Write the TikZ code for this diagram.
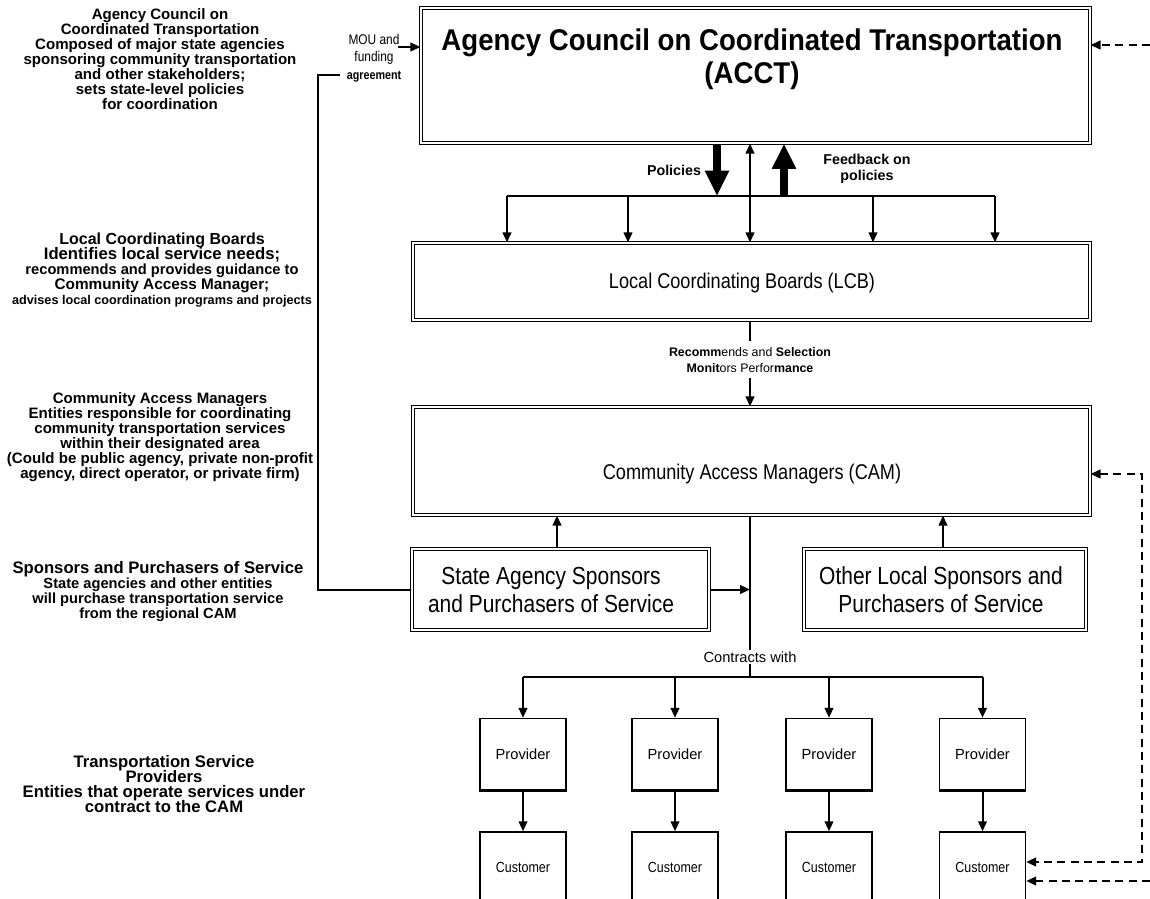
\documentclass[tikz,border=0pt]{standalone}
\usepackage{fontspec}
\setmainfont{Liberation Sans}
\newfontfamily\nar[FakeStretch=0.85]{Liberation Sans}
\newfontfamily\narT[FakeStretch=0.92]{Liberation Sans}
\usetikzlibrary{arrows.meta}
\AtBeginDocument{\lineskiplimit=-100pt\relax}
\begin{document}
\begin{tikzpicture}[x=0.75pt,y=-0.75pt,
  sz/.style 2 args={minimum width=#1*0.75pt, minimum height=#2*0.75pt},
  frame/.style={draw, line width=0.9pt, double=white, double distance=1.1pt, inner sep=0pt},
  sbox/.style={draw, line width=1.1pt, inner sep=0pt},
  ln/.style={line width=1.5pt},
  arr/.style={line width=1.5pt, -{Triangle[length=7.5pt,width=6.5pt]}},
  barr/.style={line width=1.5pt, {Triangle[length=7.5pt,width=6.5pt]}-{Triangle[length=7.5pt,width=6.5pt]}},
  fat/.style={line width=6pt, -{Triangle[length=19pt,width=17pt]}},
  dsh/.style={line width=1.6pt, dash pattern=on 6pt off 4pt, -{Triangle[length=7.5pt,width=6.5pt]}},
  dshb/.style={line width=1.6pt, dash pattern=on 6pt off 4pt, {Triangle[length=7.5pt,width=6.5pt]}-{Triangle[length=7.5pt,width=6.5pt]}},
  lt/.style={align=center, inner sep=0pt},
  lbl/.style={align=center, inner sep=1pt}
]
\fill[white] (0,0) rectangle (1150,899);
\useasboundingbox (0,0) rectangle (1150,899);

% ---------- left descriptions ----------
\node[lt, font=\bfseries\fontsize{11.3}{11.25}\selectfont] (t1) at (160,59.5)
  {Agency Council on\\Coordinated Transportation\\Composed of major state agencies\\sponsoring community transportation\\and other stakeholders;\\sets state-level policies\\for coordination};
\node[lt, font=\bfseries\fontsize{12}{11.25}\selectfont] (t2) at (162,270)
  {Local Coordinating Boards\\{\fontsize{12.5}{11.25}\selectfont Identifies local service needs;}\\{\fontsize{11}{11.25}\selectfont recommends and provides guidance to}\\{\fontsize{11.5}{11.25}\selectfont Community Access Manager;}\\{\fontsize{9.5}{11.25}\selectfont advises local coordination programs and projects}};
\node[lt, font=\bfseries\fontsize{11.3}{11.25}\selectfont] (t3) at (160,437.5)
  {Community Access Managers\\Entities responsible for coordinating\\community transportation services\\within their designated area\\(Could be public agency, private non-profit\\agency, direct operator, or private firm)};
\node[lt, font=\bfseries\fontsize{11}{11.25}\selectfont] (t4) at (158,591.5)
  {{\fontsize{12.5}{11.25}\selectfont Sponsors and Purchasers of Service}\\State agencies and other entities\\will purchase transportation service\\from the regional CAM};
\node[lt, font=\bfseries\fontsize{12.5}{11.25}\selectfont] (t5) at (164,784.5)
  {Transportation Service\\Providers\\Entities that operate services under\\contract to the CAM};

% ---------- boxes ----------
\node[frame, sz={669}{135}] (acct) at (755.5,75.5) {};
\node[lt, font=\narT\bfseries\fontsize{22.5}{24.75}\selectfont] (acctT) at (752,59)
  {Agency Council on Coordinated Transportation\\(ACCT)};
\node[frame, sz={677}{77}] (lcb) at (751.5,281.5) {};
\node[lt, font=\nar\fontsize{16}{19}\selectfont] (lcbT) at (742,283) {Local Coordinating Boards (LCB)};
\node[frame, sz={677}{108}] (cam) at (751.5,461) {};
\node[lt, font=\nar\fontsize{16}{19}\selectfont] (camT) at (752,474) {Community Access Managers (CAM)};
\node[frame, sz={297}{81}] (sas) at (560.5,589.5) {};
\node[lt, font=\nar\fontsize{18.5}{21}\selectfont] (sasT) at (551,590) {State Agency Sponsors\\and Purchasers of Service};
\node[frame, sz={282}{81}] (olsp) at (945,589.5) {};
\node[lt, font=\nar\fontsize{18.5}{21}\selectfont] (olspT) at (941,590) {Other Local Sponsors and\\Purchasers of Service};

\foreach \x [count=\i] in {523,675,829,982.5} {
  \node[sbox, sz={86}{71}, font=\fontsize{11}{13}\selectfont] (p\i) at (\x,754) {Provider};
  \node[sbox, sz={86}{70}, font=\nar\fontsize{11}{13}\selectfont] (c\i) at (\x,867) {Customer};
  \draw[line width=2pt] (p\i.south west) -- (p\i.south east);
}

% ---------- MOU ----------
\coordinate (mouC) at (318,75);
\coordinate (mouE) at (340,75);
\draw[ln] (sas.west) -| (mouC) -- (mouE);
\node[lbl, font=\nar\fontsize{10.5}{13}\selectfont] (mou) at (374,58) {MOU and\\funding\\{\bfseries\fontsize{9.5}{13}\selectfont agreement}};
\coordinate (mouA) at (398,47);
\draw[arr] (mouA) -- (acct.west |- mouA);

% ---------- top dashed ----------
\coordinate (dTop) at (1150,45);
\draw[dsh] (dTop) -- (acct.east |- dTop);

% ---------- ACCT <-> LCB ----------
\foreach \x [count=\i] in {507,628,750,873,995} \coordinate (b\i) at (\x,196);
\draw[ln] (b1) -- (b5);
\foreach \i in {1,2,4,5} \draw[arr] (b\i) -- (lcb.north -| b\i);
\draw[barr] (acct.south -| b3) -- (lcb.north -| b3);
\coordinate (polB) at (717,196);
\draw[fat] (acct.south -| polB) -- (polB);
\coordinate (fbB) at (784,196);
\draw[fat] (fbB) -- (acct.south -| fbB);
\node[lbl, font=\bfseries\fontsize{10.7}{12}\selectfont] (pol) at (674,170) {Policies};
\node[lbl, font=\bfseries\fontsize{10.7}{12}\selectfont] (fb) at (867,169) {Feedback on\\policies};

% ---------- LCB -> CAM ----------
\coordinate (r1) at (750,341);
\coordinate (r2) at (750,378);
\draw[ln] (lcb.south -| r1) -- (r1);
\node[lbl, font=\fontsize{9.3}{12}\selectfont] (rec) at (750,360) {{\bfseries Recomm}ends and {\bfseries Selection}\\{\bfseries Monit}ors Perfor{\bfseries mance}};
\draw[arr] (r2) -- (cam.north -| r2);

% ---------- sponsors -> CAM ----------
\coordinate (uL) at (557,530);
\coordinate (uR) at (943,530);
\draw[arr] (sas.north -| uL) -- (cam.south -| uL);
\draw[arr] (olsp.north -| uR) -- (cam.south -| uR);

% ---------- CAM -> providers ----------
\coordinate (cb) at (750,677);
\draw[ln] (cam.south -| cb) -- (cb);
\draw[arr] (sas.east) -- (sas.east -| cb);
\node[lbl, fill=white, font=\fontsize{11}{13}\selectfont] (cw) at (750,657) {Contracts with};
\draw[ln] (p1.north |- cb) -- (p4.north |- cb);
\foreach \i in {1,...,4} {
  \draw[arr] (p\i.north |- cb) -- (p\i.north);
  \draw[arr] (p\i.south) -- (c\i.north);
}

% ---------- right dashed ----------
\coordinate (dR) at (1142,862);
\coordinate (dC) at (1142,474);
\draw[dshb] (cam.east |- dC) -- (dC) -- (dR) -- (c4.east |- dR);
\coordinate (dB) at (1150,881);
\draw[dsh] (dB) -- (c4.east |- dB);
\end{tikzpicture}
\end{document}
